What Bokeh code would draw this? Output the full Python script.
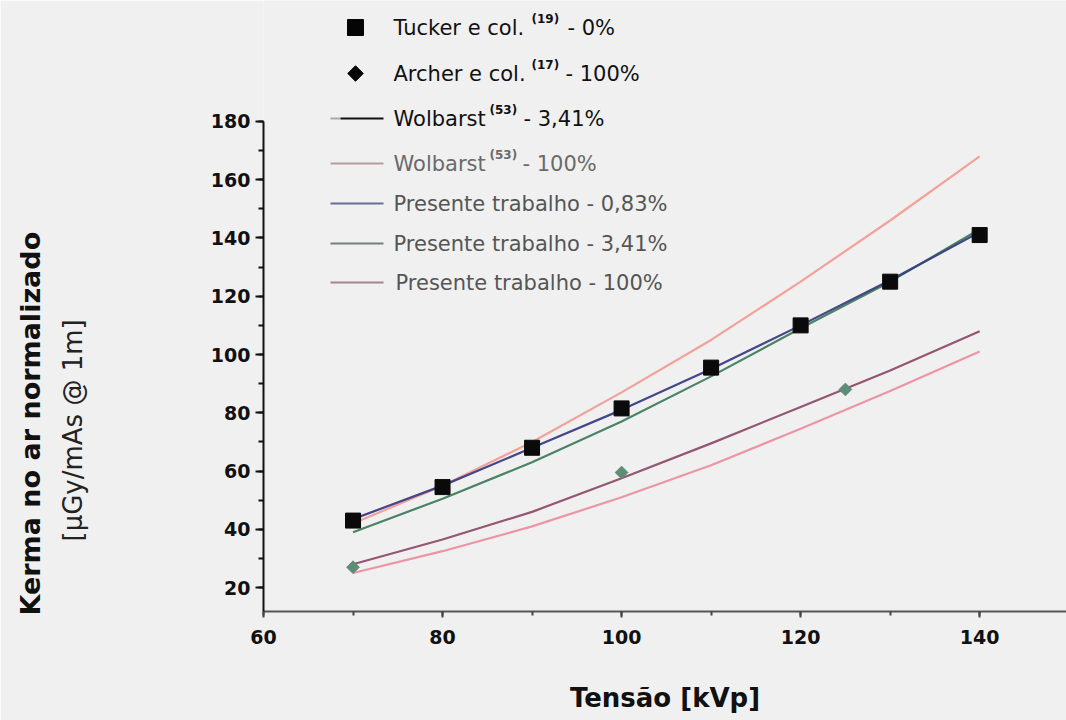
from math import pi

from bokeh.core.properties import value
from bokeh.embed import file_html
from bokeh.models import ColumnDataSource, Range1d, SingleIntervalTicker, Title
from bokeh.plotting import figure
from bokeh.resources import INLINE

# ---- data: air kerma per mAs at 1 m vs tube voltage ----
kvp = [70, 80, 90, 100, 110, 120, 130, 140]
tucker_kerma = [43, 54.5, 68, 81.5, 95.5, 110, 125, 141]          # Tucker e col. - 0%
archer_kvp = [70, 100, 125]
archer_kerma = [27, 59.5, 88]                                       # Archer e col. - 100%
wolbarst_341 = [42, 55, 70, 87, 105, 125, 146, 168]
wolbarst_100 = [25, 32.5, 41, 51, 62, 74.5, 87.5, 101]
presente_083 = [43.5, 55, 68, 81, 95, 110, 125.5, 142]
presente_341 = [39, 50.5, 63, 77, 92.5, 109, 125, 143]
presente_100 = [28, 36.5, 46, 57.5, 69.5, 82, 94.5, 108]

# legend texts
legend_main = ["Tucker e col.", "Archer e col.", "Wolbarst", "Wolbarst",
               "Presente trabalho - 0,83%", "Presente trabalho - 3,41%",
               "Presente trabalho - 100%"]
legend_refs = ["(19)", "(17)", "(53)", "(53)"]
legend_tail = ["- 0%", "- 100%", "- 3,41%", "- 100%"]

BG = "#f0f0f0"
FONT = "DejaVu Sans"

W, H = 1066, 720
LEFT, BOTTOM = 263, 109
FW, FH = W - LEFT, H - BOTTOM
Y0, Y1 = 11.8, 221.5

p = figure(width=W, height=H, output_backend="svg", toolbar_location=None,
           x_range=Range1d(60, 149.7), y_range=Range1d(Y0, Y1),
           min_border_left=LEFT, min_border_right=0, min_border_top=0,
           min_border_bottom=BOTTOM)
p.background_fill_color = BG
p.border_fill_color = BG
p.outline_line_color = None
p.xgrid.visible = False
p.ygrid.visible = False

# pixel ranges over the frame, used to lay out the key
p.extra_x_ranges = {"px": Range1d(0, FW)}
p.extra_y_ranges = {"px": Range1d(FH, 0)}

# ---- axes ----
xa = p.xaxis[0]
xa.ticker = SingleIntervalTicker(interval=20, num_minor_ticks=2)
xa.axis_line_color = "#555555"
xa.axis_line_width = 2
xa.major_tick_line_color = "#444444"
xa.minor_tick_line_color = "#444444"
xa.major_tick_line_width = 2
xa.minor_tick_line_width = 2
xa.major_tick_in = 0
xa.major_tick_out = 6
xa.minor_tick_in = 0
xa.minor_tick_out = 4
xa.major_label_standoff = 12
xa.major_label_text_font = FONT
xa.major_label_text_font_style = "bold"
xa.major_label_text_font_size = "19px"
xa.major_label_text_color = "#111111"
xa.axis_label = "Tensão [kVp]"
xa.axis_label_text_font = FONT
xa.axis_label_text_font_style = "bold"
xa.axis_label_text_font_size = "26px"
xa.axis_label_text_color = "#111111"
xa.axis_label_standoff = 36

ya = p.yaxis[0]
ya.ticker = SingleIntervalTicker(interval=20, num_minor_ticks=2)
ya.bounds = (Y0, 180)
ya.axis_line_color = "#111111"
ya.axis_line_width = 2
ya.major_tick_line_color = "#111111"
ya.minor_tick_line_color = "#111111"
ya.major_tick_line_width = 2
ya.minor_tick_line_width = 2
ya.major_tick_in = 0
ya.major_tick_out = 8
ya.minor_tick_in = 0
ya.minor_tick_out = 5
ya.major_label_standoff = 5
ya.major_label_text_font = FONT
ya.major_label_text_font_style = "bold"
ya.major_label_text_font_size = "19px"
ya.major_label_text_color = "#111111"

# vertical title in two lines, placed in the left panel:
# an empty gap first, then the unit line, then the quantity name
p.add_layout(Title(text=" ", text_font_size="2px", standoff=116), "left")
p.add_layout(Title(text="[µGy/mAs @ 1m]", align="left", offset=70,
                   standoff=0, text_font=FONT, text_font_style="normal",
                   text_font_size="26px", text_color="#222222"), "left")
p.add_layout(Title(text="Kerma no ar normalizado", align="left", offset=-4,
                   standoff=20, text_font=FONT, text_font_style="bold",
                   text_font_size="27px", text_color="#111111"), "left")

# ---- curves ----
curves = [
    (wolbarst_341, "#f29c93"),
    (wolbarst_100, "#ec8f9f"),
    (presente_341, "#3f7d5c"),
    (presente_083, "#3a3d82"),
    (presente_100, "#8e4d6c"),
]
for ys, col in curves:
    p.line(kvp, ys, line_color=col, line_width=2.2, line_alpha=0.95)

p.scatter(kvp, tucker_kerma, marker="square", size=15, color="#0a0a0a")
p.scatter(archer_kvp, archer_kerma, marker="square", angle=pi / 4, size=9,
          color="#5f8c76")

# ---- key (pixel layout inside the frame) ----
row_y = [27, 73, 118, 163, 203, 243, 282]
mark_x = 92
p.scatter([mark_x], [row_y[0]], marker="square", size=16, color="#050505",
          x_range_name="px", y_range_name="px")
p.scatter([mark_x], [row_y[1]], marker="square", angle=pi / 4, size=11,
          color="#050505", x_range_name="px", y_range_name="px")

key_lines = ColumnDataSource(dict(
    xs=[[67, 77], [77, 120], [67, 120], [67, 120], [67, 120], [67, 120]],
    ys=[[row_y[2]] * 2, [row_y[2]] * 2, [row_y[3]] * 2, [row_y[4]] * 2,
        [row_y[5]] * 2, [row_y[6]] * 2],
    color=["#b8a0a0", "#111111", "#b89aa2", "#6a6c9c", "#75807a", "#a6848e"],
))
p.multi_line("xs", "ys", line_color="color", line_width=2.2, source=key_lines,
             x_range_name="px", y_range_name="px")

main_src = ColumnDataSource(dict(
    x=[130, 130, 130, 130, 130, 130, 132],
    y=row_y,
    text=legend_main,
    color=["#111111", "#111111", "#111111", "#6a6a6a", "#555555", "#555555", "#555555"],
))
p.text("x", "y", text="text", source=main_src, text_color="color",
       text_font=value(FONT), text_font_size="21px", text_baseline="middle",
       text_align="left", x_range_name="px", y_range_name="px")

ref_src = ColumnDataSource(dict(
    x=[268, 268, 226, 226],
    y=[r - 9 for r in row_y[:4]],
    text=legend_refs,
    color=["#111111", "#111111", "#111111", "#6a6a6a"],
))
p.text("x", "y", text="text", source=ref_src, text_color="color",
       text_font=value(FONT), text_font_size="12px", text_font_style="bold",
       text_baseline="middle", text_align="left",
       x_range_name="px", y_range_name="px")

tail_src = ColumnDataSource(dict(
    x=[304, 302, 260, 259],
    y=row_y[:4],
    text=legend_tail,
    color=["#111111", "#111111", "#111111", "#6a6a6a"],
))
p.text("x", "y", text="text", source=tail_src, text_color="color",
       text_font=value(FONT), text_font_size="21px", text_baseline="middle",
       text_align="left", x_range_name="px", y_range_name="px")

open("out.html", "w").write(file_html(p, INLINE))
